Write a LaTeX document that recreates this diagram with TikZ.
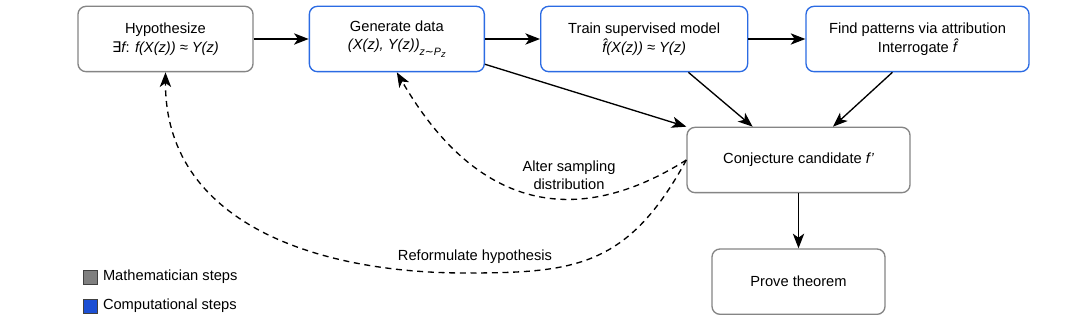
\documentclass[tikz,border=0pt]{standalone}
\usepackage{fontspec}
\setmainfont{Liberation Sans}
\newfontfamily\dejavu{DejaVu Sans}
\usepackage{tikz}
\usetikzlibrary{
  arrows.meta,
  positioning,
  calc
}
\definecolor{MathGray}{HTML}{858585}
\definecolor{CompBlue}{HTML}{2B6BE3}
\definecolor{LegGray}{HTML}{7F7F7F}
\definecolor{LegBlue}{HTML}{1C4FD4}
\tikzset{
  % Step box: grey = mathematician, blue = computational
  stepbox/.style={
    rectangle, rounded corners=6pt,
    draw=#1, fill=white, line width=1pt,
    minimum height=49pt, inner sep=2pt,
    align=center, font=\fontsize{11}{14}\selectfont
  },
  % Solid arrow
  arr/.style={
    -{Stealth[length=11pt,width=8.5pt,inset=3pt]},
    line width=1pt, color=black
  },
  % Dashed feedback arrow
  back/.style={arr, dash pattern=on 4.5pt off 3.5pt},
  % Free label
  lbl/.style={font=\fontsize{11}{13.5}\selectfont, align=center, inner sep=1pt},
  % Legend square
  legsq/.style={
    rectangle, draw=black!75, fill=#1,
    minimum size=10.5pt, inner sep=0pt, line width=0.6pt
  }
}

\begin{document}
\begin{tikzpicture}[x=0.75pt,y=-0.75pt]

  \path[use as bounding box, fill=white] (0,0) rectangle (1080,323);

  % Top row
  \node[stepbox=MathGray, minimum width=131.25pt] at (165.5,39) (hyp)
    {Hypothesize\\{\dejavu ∃}{\itshape f}: {\itshape f(X(z)) ≈ Y(z)}};
  \node[stepbox=CompBlue, minimum width=131.25pt, right=41.25pt of hyp] (gen)
    {Generate data\\{\itshape (X(z), Y(z))}\raisebox{-0.7ex}{\footnotesize\itshape z{\dejavu\upshape ∼}P\raisebox{-0.4ex}{\scriptsize z}}};
  \node[stepbox=CompBlue, minimum width=155.25pt, right=41.25pt of gen] (train)
    {Train supervised model\\{\itshape \^{f}(X(z)) ≈ Y(z)}};
  \node[stepbox=CompBlue, minimum width=167.25pt, right=42.75pt of train] (find)
    {Find patterns via attribution\\Interrogate {\itshape \^{f}}};

  % Lower column
  \node[stepbox=MathGray, minimum width=167.25pt] at (798.5,160) (conj)
    {Conjecture candidate {\itshape f'}};
  \node[stepbox=MathGray, minimum width=129.75pt, below=41.25pt of conj] (prove)
    {Prove theorem};

  % Feedback labels
  \node[lbl] at (569,175) (alterlbl) {Alter sampling\\distribution};
  \node[lbl] at (475,257) (reformlbl) {Reformulate hypothesis};
  \coordinate (reformlow) at (465,273);

  % Legend
  \node[legsq=LegGray] at (90,277) (legmath) {};
  \node[lbl, right=3pt of legmath] (legmathtxt) {Mathematician steps};
  \node[legsq=LegBlue] at (90,306) (legcomp) {};
  \node[lbl, right=3pt of legcomp] (legcomptxt) {Computational steps};

  \draw[arr] (hyp)   -- (gen);
  \draw[arr] (gen)   -- (train);
  \draw[arr] (train) -- (find);
  \draw[arr] (gen.-16.5)    -- (conj.north west);
  \draw[arr] (train.-37.2)  -- (conj.144.6);
  \draw[arr] (find.-127.7)  -- (conj.44.6);
  \draw[arr] (conj)  -- (prove);
  \draw[back] (conj.west) .. controls (593,219) and (486,226) .. (gen.south);
  \draw[back] (conj.west) .. controls (628,267) and (575,273) .. (reformlow)
    .. controls (315,273) and (165,222) .. (hyp.south);

\end{tikzpicture}
\end{document}
